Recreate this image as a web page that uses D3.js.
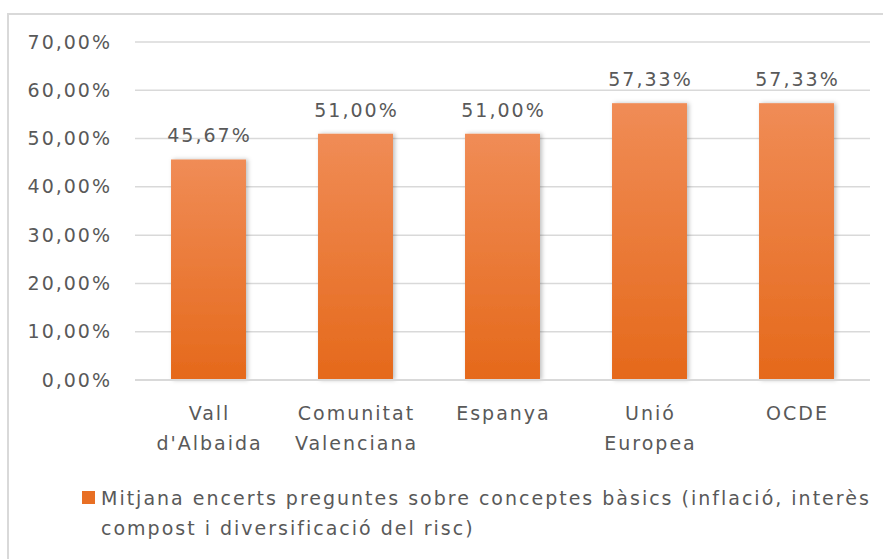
<!DOCTYPE html>
<html>
<head>
<meta charset="utf-8">
<script src="https://cdn.jsdelivr.net/npm/d3@7"></script>
<style>
  body { margin: 0; background: #fff; }
  text { font-family: "DejaVu Sans", sans-serif; fill: #595959; }
</style>
</head>
<body>
<div id="plot"></div>
<script>
// chart values
const categories = [["Vall", "d'Albaida"], ["Comunitat", "Valenciana"], ["Espanya"], ["Unió", "Europea"], ["OCDE"]];
const values = [45.67, 51.00, 51.00, 57.33, 57.33];
const yTicks = [0, 10, 20, 30, 40, 50, 60, 70];
const legendLines = ["Mitjana encerts preguntes sobre conceptes bàsics (inflació, interès", "compost i diversificació del risc)"];

const width = 883, height = 559;
const margin = {top: 42, right: 13, bottom: 179, left: 135};
const fontSize = 19;
const spacing = "2px";

const fmt = v => v.toFixed(2).replace(".", ",") + "%";

const svg = d3.select("#plot").append("svg")
  .attr("width", width)
  .attr("height", height);

// gradient + shadow for the bars
const defs = svg.append("defs");
const grad = defs.append("linearGradient")
  .attr("id", "barGrad")
  .attr("x1", 0).attr("y1", 0).attr("x2", 0).attr("y2", 1);
grad.append("stop").attr("offset", "0%").attr("stop-color", "#f08c56");
grad.append("stop").attr("offset", "100%").attr("stop-color", "#e5691b");
const shadow = defs.append("filter").attr("id", "shadow")
  .attr("x", "-20%").attr("y", "-10%").attr("width", "140%").attr("height", "120%");
shadow.append("feDropShadow")
  .attr("dx", 2).attr("dy", 0).attr("stdDeviation", 2)
  .attr("flood-color", "#000").attr("flood-opacity", 0.25);

// outer frame
svg.append("rect")
  .attr("x", 8).attr("y", 14)
  .attr("width", width + 10).attr("height", height + 10)
  .attr("fill", "none")
  .attr("stroke", "#d9d9d9")
  .attr("stroke-width", 2);

const x = d3.scaleBand(d3.range(categories.length), [margin.left, width - margin.right])
  .paddingInner(0.49).paddingOuter(0.245);
const y = d3.scaleLinear([0, 70], [height - margin.bottom, margin.top]);

// gridlines
svg.append("g")
  .selectAll("line")
  .data(yTicks.slice(1))
  .join("line")
    .attr("x1", margin.left).attr("x2", width - margin.right)
    .attr("y1", d => y(d)).attr("y2", d => y(d))
    .attr("stroke", "#d9d9d9")
    .attr("stroke-width", 1.5);

// y axis labels
const yAxis = d3.axisLeft(y).tickValues(yTicks).tickFormat(fmt).tickSize(0).tickPadding(23);
svg.append("g")
  .attr("transform", `translate(${margin.left}, 0)`)
  .call(yAxis)
  .call(g => g.select(".domain").remove())
  .selectAll("text")
    .attr("font-size", fontSize)
    .attr("fill", "#595959")
    .style("font-family", "'DejaVu Sans', sans-serif")
    .style("letter-spacing", spacing);

// bars
svg.append("g")
  .selectAll("rect")
  .data(values)
  .join("rect")
    .attr("x", (d, i) => x(i))
    .attr("y", d => y(d))
    .attr("width", x.bandwidth())
    .attr("height", d => y(0) - y(d))
    .attr("fill", "url(#barGrad)")
    .attr("filter", "url(#shadow)");

// baseline
svg.append("line")
  .attr("x1", margin.left).attr("x2", width - margin.right)
  .attr("y1", y(0)).attr("y2", y(0))
  .attr("stroke", "#d9d9d9")
  .attr("stroke-width", 2);

// value labels
svg.append("g")
  .selectAll("text")
  .data(values)
  .join("text")
    .attr("x", (d, i) => x(i) + x.bandwidth() / 2 + 1)
    .attr("y", d => y(d) - 17)
    .attr("text-anchor", "middle")
    .attr("font-size", fontSize)
    .style("letter-spacing", spacing)
    .text(fmt);

// category labels
const cat = svg.append("g")
  .selectAll("text")
  .data(categories)
  .join("text")
    .attr("x", (d, i) => x(i) + x.bandwidth() / 2 + 1)
    .attr("y", 420)
    .attr("text-anchor", "middle")
    .attr("font-size", fontSize)
    .style("letter-spacing", spacing);
cat.selectAll("tspan")
  .data(d => d)
  .join("tspan")
    .attr("x", function() { return this.parentNode.getAttribute("x"); })
    .attr("dy", (d, i) => i === 0 ? 0 : 30)
    .text(d => d);

// legend
svg.append("rect")
  .attr("x", 82).attr("y", 491)
  .attr("width", 13).attr("height", 13)
  .attr("fill", "#e86f24");
svg.append("g")
  .selectAll("text")
  .data(legendLines)
  .join("text")
    .attr("x", 101)
    .attr("y", (d, i) => 505 + i * 30)
    .attr("font-size", fontSize)
    .style("letter-spacing", spacing)
    .text(d => d);
</script>
</body>
</html>
